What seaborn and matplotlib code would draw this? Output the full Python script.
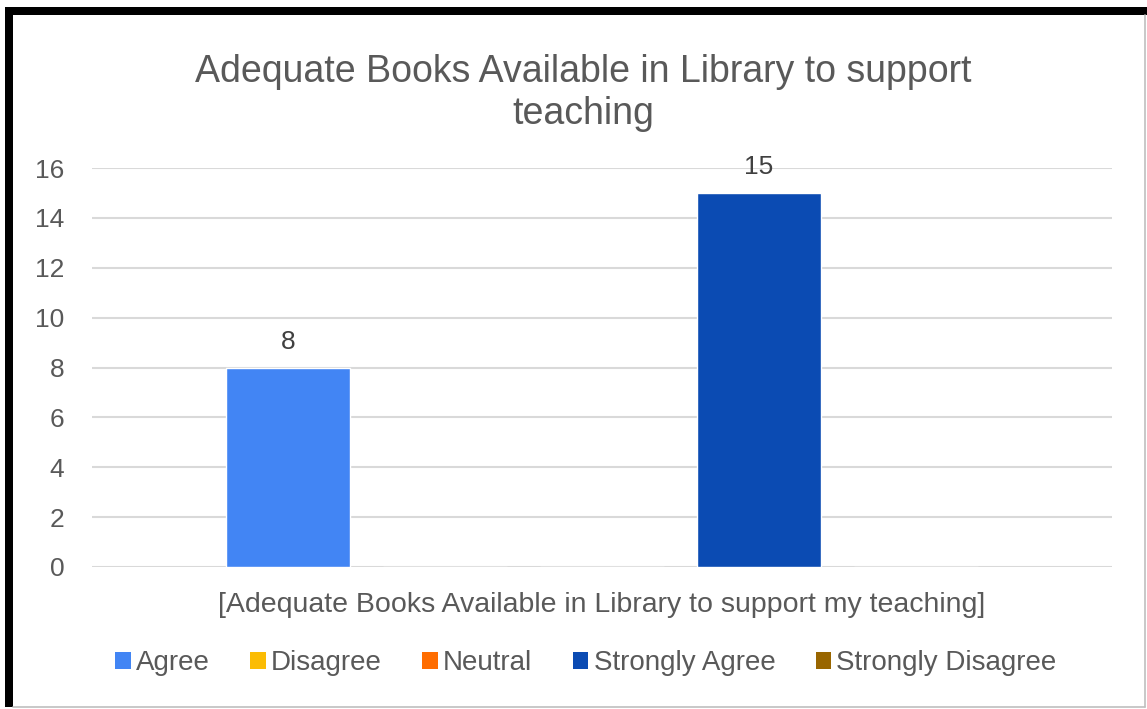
import matplotlib
matplotlib.use("Agg")
import matplotlib.pyplot as plt
import seaborn as sns
import pandas as pd
from matplotlib.patches import Rectangle, Patch
from matplotlib.lines import Line2D

category = ["[Adequate Books Available in Library to support my teaching]"]
responses = ["Agree", "Disagree", "Neutral", "Strongly Agree", "Strongly Disagree"]
counts = [8, 0, 0, 15, 0]
colors = ["#4285F4", "#FBBC04", "#FF6D01", "#0B4BB3", "#996600"]
title = "Adequate Books Available in Library to support\nteaching"
yticks = [0, 2, 4, 6, 8, 10, 12, 14, 16]

df = pd.DataFrame({"question": category * len(responses),
                   "response": responses, "count": counts})

sns.set_theme(style="white")
plt.rcParams["font.family"] = ["Liberation Sans", "DejaVu Sans"]
TXT = "#595959"

W, H = 1147, 709
fig = plt.figure(figsize=(W / 100, H / 100), dpi=100)
fig.patch.set_facecolor("white")
ax = fig.add_axes([92 / W, 1 - 567 / H, (1112 - 92) / W, (567 - 168) / H])

sns.barplot(data=df, x="question", y="count", hue="response", hue_order=responses,
            palette=colors, width=0.77, gap=0.21, ax=ax, legend=False,
            saturation=1, errorbar=None)

ax.set_xlim(-0.5, 0.5)
ax.set_ylim(0, 16)
ax.set_yticks(yticks)
ax.set_yticklabels([str(t) for t in yticks], color=TXT, fontsize=19)
ax.tick_params(axis="y", length=0, pad=20)
ax.tick_params(axis="x", length=0, pad=18, labelsize=20.5, labelcolor=TXT)
ax.set_xlabel("")
ax.set_ylabel("")
ax.grid(axis="y", color="#D9D9D9", linewidth=1.5)
ax.set_axisbelow(True)
for s in ax.spines.values():
    s.set_visible(False)

for cont, v in zip(ax.containers, counts):
    ax.bar_label(cont, labels=[str(v) if v > 0 else ""], padding=10,
                 fontsize=19, color="#404040")

fig.text(583 / W, 1 - 93 / H, title, ha="center", va="center",
         fontsize=27, color=TXT, linespacing=1.2)

handles = [Patch(facecolor=c, edgecolor="none") for c in colors]
leg = fig.legend(handles, responses, loc="center", ncol=5,
                 bbox_to_anchor=(586 / W, 1 - 663 / H), frameon=False,
                 fontsize=20, handlelength=0.55, handleheight=0.55,
                 handletextpad=0.2, columnspacing=1.45)
for t in leg.get_texts():
    t.set_color(TXT)

# frame
fig.add_artist(Rectangle((5 / W, 1 - 707 / H), 8 / W, 700 / H,
                         transform=fig.transFigure, facecolor="black", edgecolor="none"))
fig.add_artist(Rectangle((5 / W, 1 - 15 / H), 1142 / W, 8 / H,
                         transform=fig.transFigure, facecolor="black", edgecolor="none"))
fig.add_artist(Line2D([1145 / W, 1145 / W], [1 - 707 / H, 1 - 15 / H],
                      transform=fig.transFigure, color="#BFBFBF", linewidth=1.2))
fig.add_artist(Line2D([13 / W, 1145 / W], [1 - 707 / H, 1 - 707 / H],
                      transform=fig.transFigure, color="#BFBFBF", linewidth=1.2))

fig.savefig("out.png", dpi=100)
